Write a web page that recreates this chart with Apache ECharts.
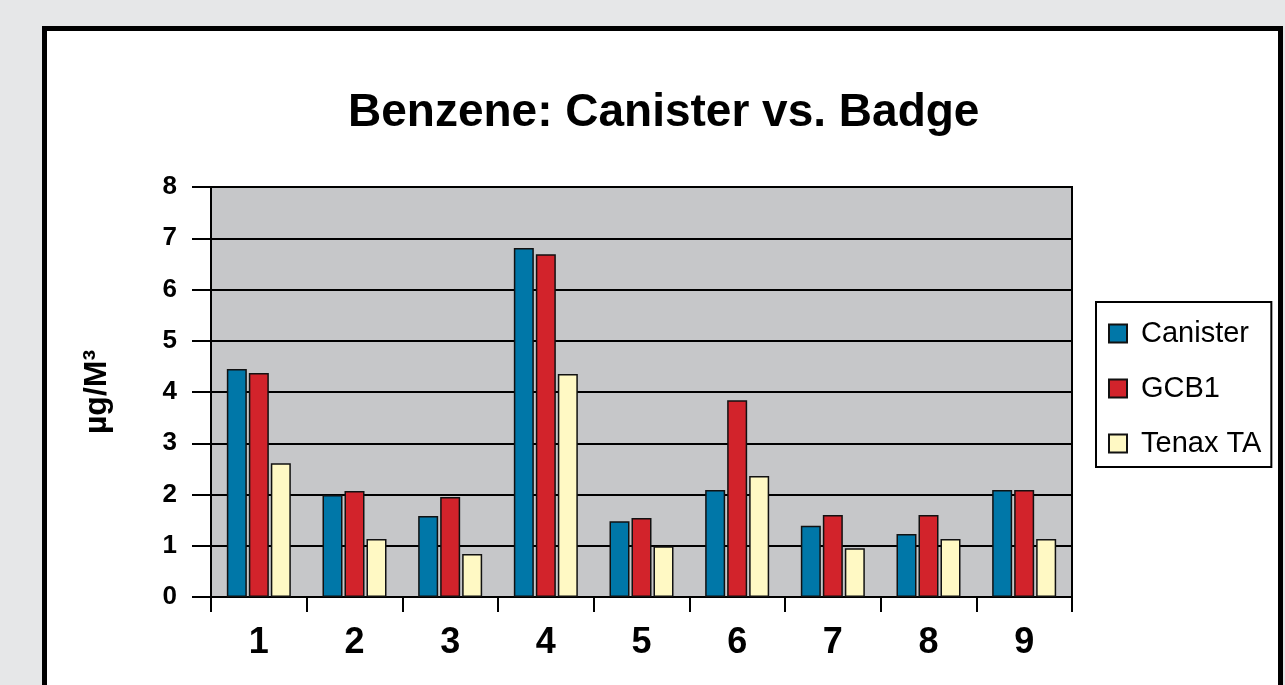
<!DOCTYPE html>
<html>
<head>
<meta charset="utf-8">
<script src="https://cdn.jsdelivr.net/npm/echarts@6/dist/echarts.min.js"></script>
<style>
html, body { margin: 0; padding: 0; background: #e6e7e8; }
#chart { width: 1285px; height: 685px; }
</style>
</head>
<body>
<div id="chart"></div>
<script>
// 样品编号
var categories = ['1', '2', '3', '4', '5', '6', '7', '8', '9'];
// 各方法的苯浓度 (µg/M³)
var canister = [4.45, 1.99, 1.58, 6.81, 1.48, 2.09, 1.39, 1.23, 2.09];
var gcb1 = [4.37, 2.07, 1.95, 6.69, 1.54, 3.84, 1.60, 1.60, 2.09];
var tenax = [2.61, 1.13, 0.84, 4.35, 0.99, 2.36, 0.95, 1.13, 1.13];
var yTicks = [0, 1, 2, 3, 4, 5, 6, 7, 8];

var chart = echarts.init(document.getElementById('chart'));

function barSeries(name, data, color) {
    return {
        name: name,
        type: 'bar',
        data: data,
        barWidth: 20,
        barGap: '10%',
        itemStyle: {
            color: color,
            borderColor: '#111',
            borderWidth: 1.5
        }
    };
}

var option = {
    backgroundColor: '#e6e7e8',
    animation: false,
    graphic: [{
        type: 'rect',
        z: -100,
        shape: { x: 44.5, y: 28.5, width: 1236, height: 700 },
        style: { fill: '#fff', stroke: '#000', lineWidth: 5 }
    }],
    title: {
        text: 'Benzene: Canister vs. Badge',
        left: 343,
        top: 85,
        textStyle: {
            fontFamily: 'Liberation Sans, Arial, sans-serif',
            fontSize: 46,
            fontWeight: 'bold',
            color: '#000'
        }
    },
    legend: {
        orient: 'vertical',
        left: 1096,
        top: 302,
        padding: [17, 10, 9, 12],
        itemGap: 26,
        itemWidth: 18,
        itemHeight: 18,
        icon: 'rect',
        borderColor: '#000',
        borderWidth: 2,
        backgroundColor: '#fff',
        textStyle: {
            fontFamily: 'Liberation Sans, Arial, sans-serif',
            fontSize: 29,
            lineHeight: 29,
            color: '#000',
            padding: [0, 0, 0, 9]
        },
        data: ['Canister', 'GCB1', 'Tenax TA']
    },
    grid: {
        left: 211,
        right: 213,
        top: 187,
        bottom: 88,
        show: true,
        backgroundColor: '#c6c7c9',
        borderColor: '#000',
        borderWidth: 2
    },
    xAxis: {
        type: 'category',
        data: categories,
        axisLine: { lineStyle: { color: '#000', width: 2 } },
        axisTick: { show: true, length: 15, lineStyle: { color: '#000', width: 2 } },
        axisLabel: {
            margin: 28,
            fontFamily: 'Liberation Sans, Arial, sans-serif',
            fontSize: 36,
            fontWeight: 'bold',
            color: '#000'
        }
    },
    yAxis: {
        type: 'value',
        min: yTicks[0],
        max: yTicks[yTicks.length - 1],
        interval: 1,
        name: 'µg/M³',
        nameLocation: 'middle',
        nameRotate: 90,
        nameGap: 98,
        nameTextStyle: {
            fontFamily: 'Liberation Sans, Arial, sans-serif',
            fontSize: 32,
            fontWeight: 'bold',
            color: '#000'
        },
        axisLine: { show: true, lineStyle: { color: '#000', width: 2 } },
        axisTick: { show: true, length: 19, lineStyle: { color: '#000', width: 2 } },
        splitLine: { show: true, lineStyle: { color: '#000', width: 2 } },
        axisLabel: {
            margin: 34,
            fontFamily: 'Liberation Sans, Arial, sans-serif',
            fontSize: 26,
            fontWeight: 'bold',
            color: '#000'
        }
    },
    series: [
        barSeries('Canister', canister, '#0077a8'),
        barSeries('GCB1', gcb1, '#d2232b'),
        barSeries('Tenax TA', tenax, '#fff9c4')
    ]
};

chart.setOption(option);
</script>
</body>
</html>
